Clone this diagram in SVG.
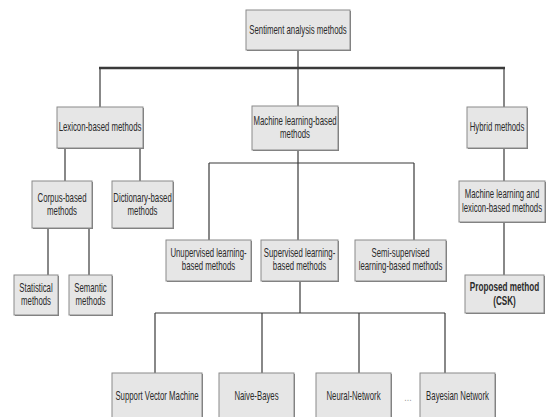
<svg xmlns="http://www.w3.org/2000/svg" width="546" height="417" viewBox="0 0 546 417">
<style>
.bx{fill:#e6e6e6;stroke:#8a8a8a;stroke-width:1}
.sh{fill:#7a7a7a}
.t{font-family:"Liberation Sans",Arial,sans-serif;font-size:12px;fill:#2a2a2a;text-anchor:middle}
.b{font-weight:bold}
.ln{fill:none;stroke:#3a3a3a;stroke-width:1.2}
.main{fill:none;stroke:#3a3a3a;stroke-width:2.4}
</style>
<rect width="546" height="417" fill="#ffffff"/>
<g id="connectors">
<path class="ln" d="M298 50V68"/>
<path class="main" d="M99 68H505"/>
<path class="ln" d="M100 68V107M298 68V106M504 68V107"/>
<path class="ln" d="M65 148V181M140 148V181"/>
<path class="ln" d="M48 228V275M89 228V275"/>
<path class="ln" d="M298 150V163M209 163H414M209 163V240M298 163V240M414 163V240"/>
<path class="ln" d="M300 281V313M155 313H445M155 313V373M262 313V373M359 313V373M445 313V373"/>
<path class="ln" d="M504 148V181M504 222V275"/>
</g>
<g id="n0"><rect class="sh" x="247" y="11" width="104" height="40"/><rect class="bx" x="246" y="10" width="104" height="40"/><text class="t" transform="translate(298 34) scale(.65 1)">Sentiment analysis methods</text></g>
<g id="n1"><rect class="sh" x="58" y="108" width="86" height="41"/><rect class="bx" x="57" y="107" width="86" height="41"/><text class="t" transform="translate(100 131) scale(.65 1)">Lexicon-based methods</text></g>
<g id="n2"><rect class="sh" x="253" y="107" width="86" height="44"/><rect class="bx" x="252" y="106" width="86" height="44"/><text class="t" transform="translate(295 125) scale(.65 1)"><tspan x="0">Machine learning-based</tspan><tspan x="0" dy="13">methods</tspan></text></g>
<g id="n3"><rect class="sh" x="468" y="108" width="60" height="41"/><rect class="bx" x="467" y="107" width="60" height="41"/><text class="t" transform="translate(497 131) scale(.65 1)">Hybrid methods</text></g>
<g id="n4"><rect class="sh" x="33" y="182" width="60" height="47"/><rect class="bx" x="32" y="181" width="60" height="47"/><text class="t" transform="translate(62 202) scale(.65 1)"><tspan x="0">Corpus-based</tspan><tspan x="0" dy="13">methods</tspan></text></g>
<g id="n5"><rect class="sh" x="113" y="182" width="61" height="47"/><rect class="bx" x="112" y="181" width="61" height="47"/><text class="t" transform="translate(142.5 202) scale(.65 1)"><tspan x="0">Dictionary-based</tspan><tspan x="0" dy="13">methods</tspan></text></g>
<g id="n6"><rect class="sh" x="15" y="276" width="44" height="40"/><rect class="bx" x="14" y="275" width="44" height="40"/><text class="t" transform="translate(36 292) scale(.65 1)"><tspan x="0">Statistical</tspan><tspan x="0" dy="13">methods</tspan></text></g>
<g id="n7"><rect class="sh" x="70" y="276" width="43" height="40"/><rect class="bx" x="69" y="275" width="43" height="40"/><text class="t" transform="translate(90.5 292) scale(.65 1)"><tspan x="0">Semantic</tspan><tspan x="0" dy="13">methods</tspan></text></g>
<g id="n8"><rect class="sh" x="167" y="241" width="85" height="41"/><rect class="bx" x="166" y="240" width="85" height="41"/><text class="t" transform="translate(208.5 257) scale(.65 1)"><tspan x="0">Unupervised learning-</tspan><tspan x="0" dy="13">based methods</tspan></text></g>
<g id="n9"><rect class="sh" x="262" y="241" width="77" height="41"/><rect class="bx" x="261" y="240" width="77" height="41"/><text class="t" transform="translate(299.5 257) scale(.65 1)"><tspan x="0">Supervised learning-</tspan><tspan x="0" dy="13">based methods</tspan></text></g>
<g id="n10"><rect class="sh" x="356" y="241" width="91" height="41"/><rect class="bx" x="355" y="240" width="91" height="41"/><text class="t" transform="translate(400.5 257) scale(.65 1)"><tspan x="0">Semi-supervised</tspan><tspan x="0" dy="13">learning-based methods</tspan></text></g>
<g id="n11"><rect class="sh" x="460" y="182" width="86" height="41"/><rect class="bx" x="459" y="181" width="86" height="41"/><text class="t" transform="translate(502 198) scale(.65 1)"><tspan x="0">Machine learning and</tspan><tspan x="0" dy="14">lexicon-based methods</tspan></text></g>
<g id="n12"><rect class="sh" x="466" y="276" width="79" height="38"/><rect class="bx" x="465" y="275" width="79" height="38"/><text class="t b" transform="translate(504.5 291) scale(.68 1)"><tspan x="0">Proposed method</tspan><tspan x="0" dy="14">(CSK)</tspan></text></g>
<g id="n13"><rect class="sh" x="113" y="374" width="90" height="48"/><rect class="bx" x="112" y="373" width="90" height="48"/><text class="t" transform="translate(157 400) scale(.65 1)">Support Vector Machine</text></g>
<g id="n14"><rect class="sh" x="220" y="374" width="75" height="48"/><rect class="bx" x="219" y="373" width="75" height="48"/><text class="t" transform="translate(256.5 400) scale(.65 1)">Naive-Bayes</text></g>
<g id="n15"><rect class="sh" x="317" y="374" width="75" height="48"/><rect class="bx" x="316" y="373" width="75" height="48"/><text class="t" transform="translate(353.5 400) scale(.65 1)">Neural-Network</text></g>
<g id="n16"><rect class="sh" x="421" y="374" width="75" height="48"/><rect class="bx" x="420" y="373" width="75" height="48"/><text class="t" transform="translate(457.5 400) scale(.65 1)">Bayesian Network</text></g>
<text class="t" style="fill:#999;font-size:11px" transform="translate(408 401) scale(.8 1)">...</text>
</svg>
